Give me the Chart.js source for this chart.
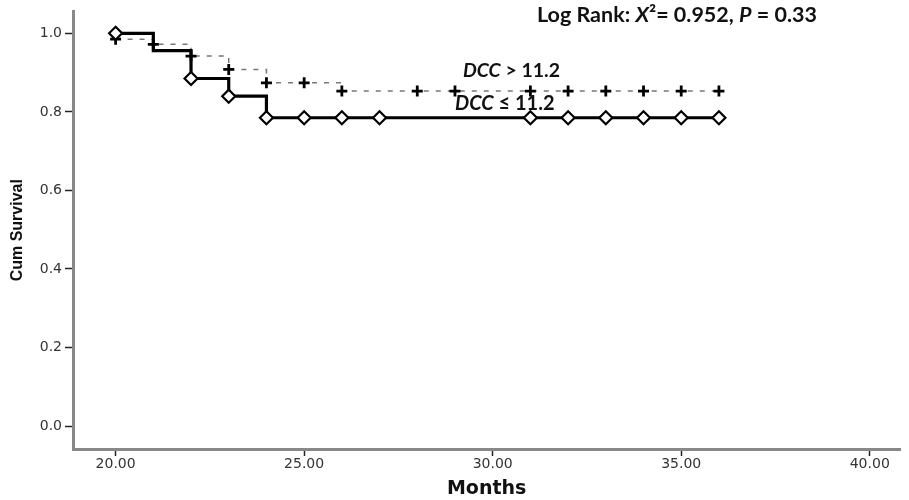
<!DOCTYPE html>
<html>
<head>
<meta charset="utf-8">
<script src="https://cdn.jsdelivr.net/npm/chart.js@4.4.1/dist/chart.umd.min.js"></script>
<style>
  html, body { margin: 0; padding: 0; background: #fff; }
  #wrap { width: 909px; height: 500px; }
</style>
</head>
<body>
<div id="wrap"><canvas id="chart" width="909" height="500"></canvas></div>
<script>
// DCC <= 11.2 (solid, diamonds)
const lowTimes = [20, 21, 22, 23, 24, 36];
const lowSurv = [1.0, 0.956, 0.885, 0.84, 0.785, 0.785];
const lowMarkTimes = [20, 22, 23, 24, 25, 26, 27, 31, 32, 33, 34, 35, 36];
const lowMarkSurv = [1.0, 0.885, 0.84, 0.785, 0.785, 0.785, 0.785, 0.785, 0.785, 0.785, 0.785, 0.785, 0.785];

// DCC > 11.2 (dashed, crosses)
const highTimes = [20, 21, 22, 23, 24, 26, 36];
const highSurv = [0.985, 0.972, 0.942, 0.908, 0.874, 0.853, 0.853];
const highMarkTimes = [20, 21, 22, 23, 24, 25, 26, 28, 29, 31, 32, 33, 34, 35, 36];
const highMarkSurv = [0.985, 0.972, 0.942, 0.908, 0.874, 0.874, 0.853, 0.853, 0.853, 0.853, 0.853, 0.853, 0.853, 0.853, 0.853];

const xTicks = [20, 25, 30, 35, 40];
const yTicks = [0, 0.2, 0.4, 0.6, 0.8, 1.0];

const pts = (xs, ys) => xs.map((x, i) => ({ x: x, y: ys[i] }));

const tickFont = { family: 'DejaVu Sans', size: 14 };

const annotations = {
  id: 'annotations',
  afterDraw(chart) {
    const ctx = chart.ctx;
    const draw = (parts, x, y, size) => {
      let cx = x;
      ctx.save();
      ctx.fillStyle = '#111';
      ctx.textBaseline = 'alphabetic';
      parts.forEach(p => {
        ctx.font = (p.i ? 'italic ' : '') + 'bold ' + size + 'px Lato';
        ctx.fillText(p.t, cx, y);
        cx += ctx.measureText(p.t).width;
      });
      ctx.restore();
    };
    draw([{ t: 'Log Rank: ' }, { t: 'X', i: true }, { t: '²= 0.952, ' }, { t: 'P', i: true }, { t: ' = 0.33' }], 537, 22, 21.5);
    draw([{ t: 'DCC', i: true }, { t: ' > 11.2' }], 463, 77, 19.5);
    draw([{ t: 'DCC', i: true }, { t: ' ≤ 11.2' }], 455, 110, 20);
  }
};

new Chart(document.getElementById('chart'), {
  type: 'line',
  data: {
    datasets: [{
      data: pts(lowMarkTimes, lowMarkSurv),
      showLine: false,
      pointStyle: 'rectRot',
      pointRadius: 6.5,
      pointBackgroundColor: '#fff',
      pointBorderColor: '#000',
      pointBorderWidth: 2.2
    }, {
      data: pts(highMarkTimes, highMarkSurv),
      showLine: false,
      pointStyle: 'cross',
      pointRadius: 5.5,
      pointBorderColor: '#000',
      pointBorderWidth: 2.8
    }, {
      data: pts(lowTimes, lowSurv),
      stepped: true,
      borderColor: '#000',
      borderWidth: 3.2,
      pointRadius: 0
    }, {
      data: pts(highTimes, highSurv),
      stepped: true,
      borderColor: '#777',
      borderWidth: 1.5,
      borderDash: [5, 7],
      pointRadius: 0
    }]
  },
  options: {
    responsive: false,
    animation: false,
    layout: { padding: { top: 10, right: 0, left: 0, bottom: 0 } },
    plugins: { legend: { display: false }, tooltip: { enabled: false } },
    scales: {
      x: {
        type: 'linear',
        min: 18.87,
        max: 40.81,
        afterBuildTicks: s => { s.ticks = xTicks.map(v => ({ value: v })); },
        afterFit: s => { s.height = 51; },
        ticks: {
          font: tickFont,
          color: '#333',
          padding: 0,
          callback: v => v.toFixed(2)
        },
        grid: { drawOnChartArea: false, tickLength: 7, tickColor: '#222', tickWidth: 1.5 },
        border: { color: '#888', width: 3 },
        title: {
          display: true,
          text: 'Months',
          font: { family: 'DejaVu Sans', size: 19, weight: 'bold' },
          color: '#111',
          padding: { top: 0, bottom: 0 }
        }
      },
      y: {
        min: -0.0584,
        max: 1.0558,
        afterBuildTicks: s => { s.ticks = yTicks.map(v => ({ value: v })); },
        afterFit: s => { s.width = 73; },
        ticks: {
          font: tickFont,
          color: '#333',
          padding: 3,
          callback: v => v.toFixed(1)
        },
        grid: { drawOnChartArea: false, tickLength: 8, tickColor: '#222', tickWidth: 1.5 },
        border: { color: '#888', width: 3 },
        title: {
          display: true,
          text: 'Cum Survival',
          font: { family: 'Liberation Sans', size: 16, weight: 'bold' },
          color: '#111',
          padding: { top: 8, bottom: 0 }
        }
      }
    }
  },
  plugins: [annotations]
});
</script>
</body>
</html>
